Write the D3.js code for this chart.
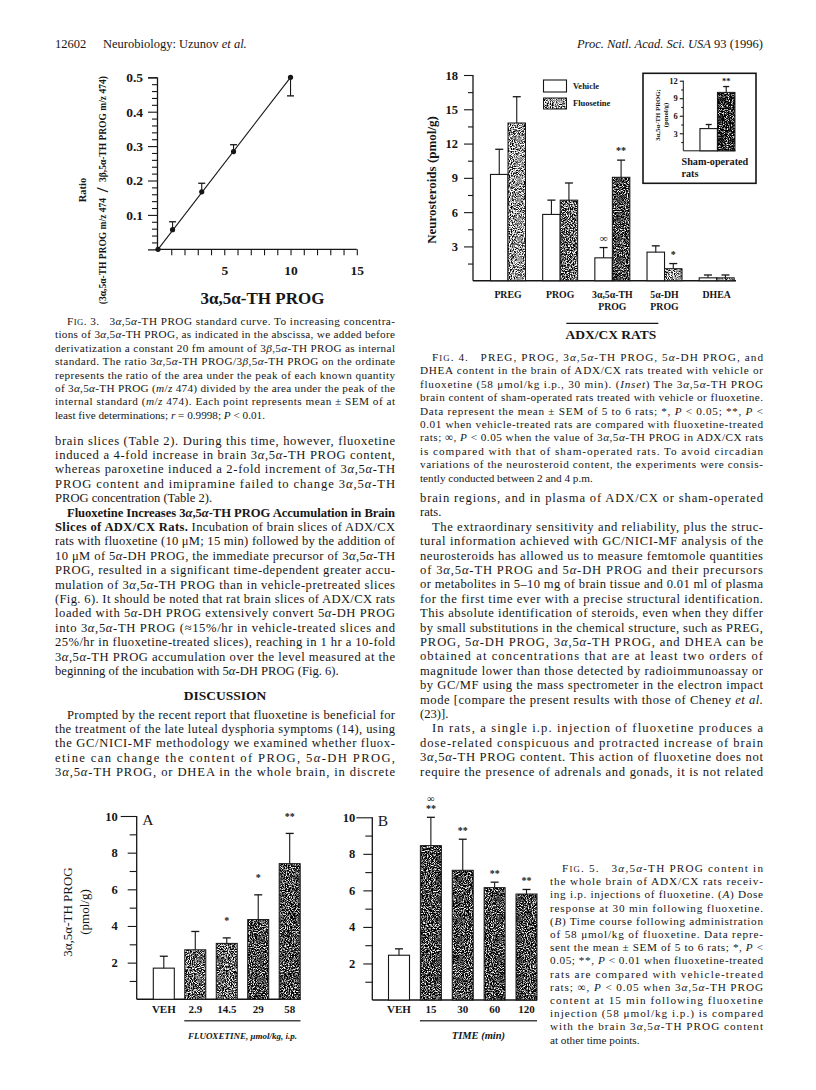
<!DOCTYPE html>
<html><head><meta charset="utf-8">
<script src="https://cdn.jsdelivr.net/npm/d3@7"></script>
<style>
body{margin:0;background:#fff}
svg{display:block}
text{font-family:"Liberation Serif","Times New Roman",serif;fill:#161616;white-space:pre}
</style>
</head><body>
<script>
// ---------------- DATA ----------------
// Fig. 3 standard curve
const fig3Conc = [0, 1.1, 3.3, 5.7, 10];
const fig3Ratio = [0, 0.057, 0.167, 0.284, 0.5];
const fig3ErrEnd = [null, 0.080, 0.192, 0.304, 0.446];
const fig3XTickLabels = [5, 10, 15];
const fig3YTickLabels = [0.1, 0.2, 0.3, 0.4, 0.5];

// Fig. 4 ADX/CX rats
const fig4Categories = [["PREG"], ["PROG"], ["3α,5α-TH", "PROG"], ["5α-DH", "PROG"], ["DHEA"]];
const fig4Vehicle = [9.3, 5.8, 2.0, 2.5, 0.25];
const fig4VehicleErr = [11.5, 7.05, 2.9, 3.05, 0.5];
const fig4Fluox = [13.8, 7.05, 9.05, 1.05, 0.25];
const fig4FluoxErr = [16.1, 8.55, 10.55, 1.5, 0.5];
const fig4VehicleMarks = ["", "", "∞", "", ""];
const fig4FluoxMarks = ["", "", "**", "*", ""];
const fig4FluoxShade = ["light", "medium", "dark", "light", "light"];
const fig4YTickLabels = [3, 6, 9, 12, 15, 18];
const fig4Legend = ["Vehicle", "Fluosetine"];

// Fig. 4 inset, sham-operated rats
const insetValues = [3.8, 10.0];
const insetErr = [4.5, 11.0];
const insetMarks = ["", "**"];
const insetYTickLabels = [3, 6, 9, 12];

// Fig. 5A dose response
const fig5ACategories = ["VEH", "2.9", "14.5", "29", "58"];
const fig5AValues = [1.7, 2.7, 3.05, 4.35, 7.4];
const fig5AErr = [2.35, 3.7, 3.35, 5.7, 9.05];
const fig5AMarks = ["", "", "*", "*", "**"];
const fig5AShade = ["white", "medium", "medium", "dark", "dark"];

// Fig. 5B time course
const fig5BCategories = ["VEH", "15", "30", "60", "120"];
const fig5BValues = [2.45, 8.45, 7.1, 6.15, 5.8];
const fig5BErr = [2.8, 10.0, 8.8, 6.45, 6.05];
const fig5BMarks = ["", "**", "**", "**", "**"];
const fig5BExtraMarks = ["", "∞", "", "", ""];
const fig5BShade = ["white", "dark", "dark", "dark", "dark"];
const fig5YTickLabels = [2, 4, 6, 8, 10];

// ---------------- TEXT ----------------
const fig3Caption = [
  ">F{IG}. 3.   3α,5α-TH PROG standard curve. To increasing concentra-",
  "tions of 3α,5α-TH PROG, as indicated in the abscissa, we added before",
  "derivatization a constant 20 fm amount of 3β,5α-TH PROG as internal",
  "standard. The ratio 3α,5α-TH PROG/3β,5α-TH PROG on the ordinate",
  "represents the ratio of the area under the peak of each known quantity",
  "of 3α,5α-TH PROG (_m_/_z_ 474) divided by the area under the peak of the",
  "internal standard (_m_/_z_ 474). Each point represents mean ± SEM of at",
  "least five determinations; _r_ = 0.9998; _P_ < 0.01.|"
];
const leftText1 = [
  "brain slices (Table 2). During this time, however, fluoxetine",
  "induced a 4-fold increase in brain 3α,5α-TH PROG content,",
  "whereas paroxetine induced a 2-fold increment of 3α,5α-TH",
  "PROG content and imipramine failed to change 3α,5α-TH",
  "PROG concentration (Table 2).|",
  ">^Fluoxetine Increases 3α,5α-TH PROG Accumulation in Brain^",
  "^Slices of ADX/CX Rats.^ Incubation of brain slices of ADX/CX",
  "rats with fluoxetine (10 μM; 15 min) followed by the addition of",
  "10 μM of 5α-DH PROG, the immediate precursor of 3α,5α-TH",
  "PROG, resulted in a significant time-dependent greater accu-",
  "mulation of 3α,5α-TH PROG than in vehicle-pretreated slices",
  "(Fig. 6). It should be noted that rat brain slices of ADX/CX rats",
  "loaded with 5α-DH PROG extensively convert 5α-DH PROG",
  "into 3α,5α-TH PROG (≈15%/hr in vehicle-treated slices and",
  "25%/hr in fluoxetine-treated slices), reaching in 1 hr a 10-fold",
  "3α,5α-TH PROG accumulation over the level measured at the",
  "beginning of the incubation with 5α-DH PROG (Fig. 6).|"
];
const leftText2 = [
  ">Prompted by the recent report that fluoxetine is beneficial for",
  "the treatment of the late luteal dysphoria symptoms (14), using",
  "the GC/NICI-MF methodology we examined whether fluox-",
  "etine can change the content of PROG, 5α-DH PROG,",
  "3α,5α-TH PROG, or DHEA in the whole brain, in discrete"
];
const fig4Caption = [
  ">F{IG}. 4.   PREG, PROG, 3α,5α-TH PROG, 5α-DH PROG, and",
  "DHEA content in the brain of ADX/CX rats treated with vehicle or",
  "fluoxetine (58 μmol/kg i.p., 30 min). (_Inset_) The 3α,5α-TH PROG",
  "brain content of sham-operated rats treated with vehicle or fluoxetine.",
  "Data represent the mean ± SEM of 5 to 6 rats; *, _P_ < 0.05; **, _P_ <",
  "0.01 when vehicle-treated rats are compared with fluoxetine-treated",
  "rats; ∞, _P_ < 0.05 when the value of 3α,5α-TH PROG in ADX/CX rats",
  "is compared with that of sham-operated rats. To avoid circadian",
  "variations of the neurosteroid content, the experiments were consis-",
  "tently conducted between 2 and 4 p.m.|"
];
const rightText = [
  "brain regions, and in plasma of ADX/CX or sham-operated",
  "rats.|",
  ">The extraordinary sensitivity and reliability, plus the struc-",
  "tural information achieved with GC/NICI-MF analysis of the",
  "neurosteroids has allowed us to measure femtomole quantities",
  "of 3α,5α-TH PROG and 5α-DH PROG and their precursors",
  "or metabolites in 5–10 mg of brain tissue and 0.01 ml of plasma",
  "for the first time ever with a precise structural identification.",
  "This absolute identification of steroids, even when they differ",
  "by small substitutions in the chemical structure, such as PREG,",
  "PROG, 5α-DH PROG, 3α,5α-TH PROG, and DHEA can be",
  "obtained at concentrations that are at least two orders of",
  "magnitude lower than those detected by radioimmunoassay or",
  "by GC/MF using the mass spectrometer in the electron impact",
  "mode [compare the present results with those of Cheney _et al._",
  "(23)].|",
  ">In rats, a single i.p. injection of fluoxetine produces a",
  "dose-related conspicuous and protracted increase of brain",
  "3α,5α-TH PROG content. This action of fluoxetine does not",
  "require the presence of adrenals and gonads, it is not related"
];
const fig5Caption = [
  ">F{IG}. 5.   3α,5α-TH PROG content in",
  "the whole brain of ADX/CX rats receiv-",
  "ing i.p. injections of fluoxetine. (_A_) Dose",
  "response at 30 min following fluoxetine.",
  "(_B_) Time course following administration",
  "of 58 μmol/kg of fluoxetine. Data repre-",
  "sent the mean ± SEM of 5 to 6 rats; *, _P_ <",
  "0.05; **, _P_ < 0.01 when fluoxetine-treated",
  "rats are compared with vehicle-treated",
  "rats; ∞, _P_ < 0.05 when 3α,5α-TH PROG",
  "content at 15 min following fluoxetine",
  "injection (58 μmol/kg i.p.) is compared",
  "with the brain 3α,5α-TH PROG content",
  "at other time points.|"
];

// ---------------- DRAWING ----------------
const W = 816, H = 1090;
const svg = d3.select("body").append("svg").attr("width", W).attr("height", H);
svg.append("rect").attr("width", W).attr("height", H).attr("fill", "#fff");
const defs = svg.append("defs");
const INK = "#161616";

function stipple(id, mean, seed) {
  const f = defs.append("filter").attr("id", id)
    .attr("x", 0).attr("y", 0).attr("width", 1).attr("height", 1)
    .attr("color-interpolation-filters", "sRGB");
  f.append("feTurbulence").attr("type", "fractalNoise").attr("baseFrequency", 0.95)
    .attr("numOctaves", 2).attr("seed", seed).attr("result", "n");
  const k = 3.4, b = mean - k * 0.5;
  f.append("feColorMatrix").attr("in", "n").attr("type", "matrix")
    .attr("values", `${k} 0 0 0 ${b}  ${k} 0 0 0 ${b}  ${k} 0 0 0 ${b}  0 0 0 0 1`).attr("result", "g");
  f.append("feComposite").attr("in", "g").attr("in2", "SourceAlpha").attr("operator", "in");
}
stipple("stLight", 0.60, 3);
stipple("stMedium", 0.40, 5);
stipple("stDark", 0.26, 8);
stipple("stBlack", 0.13, 11);
const shadeId = {light: "stLight", medium: "stMedium", dark: "stDark", black: "stBlack"};

function richLine(parent, x, y, str, size, opts = {}) {
  const t = parent.append("text").attr("x", x).attr("y", y).attr("font-size", size);
  if (opts.width) t.attr("textLength", opts.width).attr("lengthAdjust", "spacing");
  if (opts.anchor) t.attr("text-anchor", opts.anchor);
  let italic = false, bold = false, small = false, cur = null;
  const segs = [];
  for (const ch of str) {
    if (ch === "_") { italic = !italic; continue; }
    if (ch === "^") { bold = !bold; continue; }
    if (ch === "{" || ch === "}") { small = ch === "{"; continue; }
    const it = (opts.greek && "αβ".includes(ch)) ? !italic : italic;
    const key = [it, bold, small].join();
    if (cur && cur.key === key) cur.text += ch;
    else { cur = {key, text: ch, it, bold, small}; segs.push(cur); }
  }
  segs.forEach(s => {
    const ts = t.append("tspan").text(s.text);
    if (s.it) ts.attr("font-style", "italic");
    if (s.bold) ts.attr("font-weight", "bold");
    if (s.small) ts.attr("font-size", size * 0.78);
  });
  return t;
}
function block(lines, o) {
  lines.forEach((ln, i) => {
    let s = ln, just = true, ind = 0;
    if (s.startsWith(">")) { ind = o.indent; s = s.slice(1); }
    if (s.endsWith("|")) { just = false; s = s.slice(0, -1); }
    richLine(svg, o.x + ind, o.y + i * o.lh, s, o.size, {width: just ? o.width - ind : null, greek: true});
  });
}

// header
richLine(svg, 55, 48, "12602", 12.5);
richLine(svg, 103, 48, "Neurobiology: Uzunov _et al._", 12.5);
richLine(svg, 763, 48, "_Proc. Natl. Acad. Sci. USA_ 93 (1996)", 12.5, {anchor: "end"});

// body text
const CAP = 11.2, BODY = 12.6;
block(fig3Caption, {x: 55, y: 325, lh: 13.4, size: CAP, width: 340, indent: 12});
block(leftText1, {x: 55, y: 444.5, lh: 14.4, size: BODY, width: 340, indent: 12});
richLine(svg, 225, 700, "^DISCUSSION^", 13.5, {anchor: "middle"});
block(leftText2, {x: 55, y: 718.5, lh: 14.4, size: BODY, width: 340, indent: 12});
block(fig4Caption, {x: 420, y: 361, lh: 13.4, size: CAP, width: 343, indent: 12});
block(rightText, {x: 420, y: 502, lh: 14.4, size: BODY, width: 343, indent: 12});
block(fig5Caption, {x: 550, y: 872, lh: 13.2, size: CAP, width: 213, indent: 12});

// helpers for charts
function styleAxis(g, fs, bold = true) {
  g.selectAll("path.domain").attr("stroke", INK).attr("stroke-width", 1.3);
  g.selectAll(".tick line").attr("stroke", INK).attr("stroke-width", 1.1);
  g.selectAll(".tick text").attr("font-size", fs).attr("font-weight", bold ? "bold" : null)
    .attr("font-family", "'Liberation Serif','Times New Roman',serif").attr("fill", INK);
}
function bar(g, x0, w, yTop, yBase, shade) {
  if (shade === "white") {
    g.append("rect").attr("x", x0).attr("y", yTop).attr("width", w).attr("height", yBase - yTop)
      .attr("fill", "#fff").attr("stroke", INK).attr("stroke-width", 1.1);
  } else {
    g.append("rect").attr("x", x0).attr("y", yTop).attr("width", w).attr("height", yBase - yTop)
      .attr("fill", "#000").attr("filter", `url(#${shadeId[shade]})`);
    g.append("rect").attr("x", x0).attr("y", yTop).attr("width", w).attr("height", yBase - yTop)
      .attr("fill", "none").attr("stroke", INK).attr("stroke-width", 1);
  }
}
function errBar(g, cx, y0, y1, cap) {
  g.append("line").attr("x1", cx).attr("x2", cx).attr("y1", y0).attr("y2", y1).attr("stroke", INK).attr("stroke-width", 1.1);
  g.append("line").attr("x1", cx - cap / 2).attr("x2", cx + cap / 2).attr("y1", y1).attr("y2", y1).attr("stroke", INK).attr("stroke-width", 1.3);
}
function mark(g, cx, y, txt, fs) {
  if (!txt) return;
  g.append("text").attr("x", cx).attr("y", y).attr("text-anchor", "middle").attr("font-size", fs)
    .attr("font-weight", "bold").text(txt);
}
const halfSteps = (max, step) => d3.range(step / 2, max + 0.001, step);

// ---------- Fig. 3 ----------
{
  const g = svg.append("g");
  const x = d3.scaleLinear().domain([0, 15]).range([158, 356.8]);
  const y = d3.scaleLinear().domain([0, 0.5]).range([249.3, 77.3]);
  const minorY = d3.range(0.02, 0.5, 0.02).filter(v => Math.abs(v * 10 - Math.round(v * 10)) > 0.01);
  const gy = g.append("g").attr("transform", "translate(157,0)");
  gy.call(d3.axisLeft(y).tickValues(fig3YTickLabels).tickSize(9).tickPadding(5).tickFormat(d3.format(".1f")));
  gy.append("g").call(d3.axisLeft(y).tickValues(minorY).tickSize(5).tickFormat("")).select(".domain").remove();
  styleAxis(gy, 13.5);
  const gx = g.append("g").attr("transform", "translate(0,249.3)");
  gx.call(d3.axisBottom(x).tickValues(d3.range(1, 16)).tickSize(6).tickPadding(10)
    .tickFormat(d => fig3XTickLabels.includes(d) ? d : ""));
  gx.select(".domain").attr("d", `M157,0H${x(15)}`);
  styleAxis(gx, 13.5);
  // fitted line
  const line = d3.line().x(d => x(d[0])).y(d => y(d[1]));
  g.append("path").datum([[fig3Conc[0], fig3Ratio[0]], [fig3Conc[4], fig3Ratio[4]]])
    .attr("d", line).attr("stroke", INK).attr("stroke-width", 1.1).attr("fill", "none");
  fig3Conc.forEach((c, i) => {
    if (fig3ErrEnd[i] !== null) errBar(g, x(c), y(fig3Ratio[i]), y(fig3ErrEnd[i]), 7);
    g.append("circle").attr("cx", x(c)).attr("cy", y(fig3Ratio[i])).attr("r", 2.6).attr("fill", INK);
  });
  richLine(g, 262.5, 304, "^3α,5α-TH PROG^", 17, {anchor: "middle"});
  g.append("text").attr("transform", "translate(86,190) rotate(-90)").attr("text-anchor", "middle")
    .attr("font-size", 10.5).attr("font-weight", "bold").text("Ratio");
  const yl = g.append("g").attr("transform", "translate(106,190) rotate(-90)").attr("font-weight", "bold");
  yl.append("text").attr("x", -8).attr("text-anchor", "end").attr("font-size", 9.5).attr("font-weight", "bold")
    .text("(3α,5α-TH PROG m/z 474");
  yl.append("text").attr("x", 0).attr("y", 2).attr("text-anchor", "middle").attr("font-size", 17)
    .attr("font-weight", "bold").text("/");
  yl.append("text").attr("x", 8).attr("font-size", 9.5).attr("font-weight", "bold")
    .text("3β,5α-TH PROG m/z 474)");
}

// ---------- Fig. 4 ----------
{
  const g = svg.append("g");
  const y = d3.scaleLinear().domain([0, 18]).range([280.7, 75]);
  const x = d3.scalePoint().domain(d3.range(fig4Categories.length)).range([508, 716.7]);
  const gy = g.append("g").attr("transform", "translate(473,0)");
  gy.call(d3.axisLeft(y).tickValues(fig4YTickLabels).tickSize(9).tickPadding(6));
  gy.append("g").call(d3.axisLeft(y).tickValues(halfSteps(18, 3)).tickSize(5).tickFormat("")).select(".domain").remove();
  gy.select(".domain").attr("d", `M0,${y(0)}V${y(18)}`);
  styleAxis(gy, 12.5);
  g.append("line").attr("x1", 473).attr("x2", 736).attr("y1", y(0)).attr("y2", y(0)).attr("stroke", INK).attr("stroke-width", 1.4);
  const bw = 17.5;
  fig4Categories.forEach((c, i) => {
    const cx = x(i);
    bar(g, cx - bw, bw, y(fig4Vehicle[i]), y(0), "white");
    bar(g, cx, bw, y(fig4Fluox[i]), y(0), fig4FluoxShade[i]);
    errBar(g, cx - bw / 2, y(fig4Vehicle[i]), y(fig4VehicleErr[i]), 8);
    errBar(g, cx + bw / 2, y(fig4Fluox[i]), y(fig4FluoxErr[i]), 8);
    mark(g, cx - bw / 2, y(fig4VehicleErr[i]) - 6, fig4VehicleMarks[i], 11);
    mark(g, cx + bw / 2, y(fig4FluoxErr[i]) - 6, fig4FluoxMarks[i], 10);
    c.forEach((t, j) => richLine(g, cx, 297.5 + j * 12, "^" + t + "^", 9.8, {anchor: "middle"}));
  });
  g.append("text").attr("transform", "translate(436,180) rotate(-90)").attr("text-anchor", "middle")
    .attr("font-size", 13).attr("font-weight", "bold").text("Neurosteroids (pmol/g)");
  // legend
  bar(g, 543.5, 23, 80, 92, "white");
  bar(g, 543.5, 23, 98, 109, "light");
  g.append("text").attr("x", 573).attr("y", 89).attr("font-size", 8.5).attr("font-weight", "bold").text(fig4Legend[0]);
  g.append("text").attr("x", 573).attr("y", 106).attr("font-size", 8.5).attr("font-weight", "bold").text(fig4Legend[1]);
  // group line and label
  g.append("line").attr("x1", x(2) - 46).attr("x2", x(2) + 46).attr("y1", 323.3).attr("y2", 323.3).attr("stroke", INK).attr("stroke-width", 1.3);
  g.append("text").attr("x", x(2) - 1.5).attr("y", 338.5).attr("text-anchor", "middle").attr("font-size", 13.5)
    .attr("font-weight", "bold").text("ADX/CX RATS");

  // inset
  const ig = svg.append("g");
  ig.append("rect").attr("x", 643).attr("y", 73.3).attr("width", 113).attr("height", 110)
    .attr("fill", "#fff").attr("stroke", INK).attr("stroke-width", 1.6);
  const iy = d3.scaleLinear().domain([0, 12]).range([150.8, 80.7]);
  const ix = d3.scalePoint().domain([0, 1]).range([708.7, 726.2]);
  const giy = ig.append("g").attr("transform", "translate(683.3,0)");
  giy.call(d3.axisLeft(iy).tickValues(insetYTickLabels).tickSize(3.5).tickPadding(2));
  giy.append("g").call(d3.axisLeft(iy).tickValues(halfSteps(12, 3)).tickSize(2).tickFormat("")).select(".domain").remove();
  giy.select(".domain").attr("d", `M0,${iy(0)}V${iy(12)}`);
  styleAxis(giy, 8.5);
  giy.selectAll("path.domain").attr("stroke-width", 1);
  ig.append("line").attr("x1", 683.3).attr("x2", 735.5).attr("y1", iy(0)).attr("y2", iy(0)).attr("stroke", INK).attr("stroke-width", 1);
  const ibw = 17.5;
  insetValues.forEach((v, i) => {
    const cx = ix(i);
    bar(ig, cx - ibw / 2, ibw, iy(v), iy(0), i === 0 ? "white" : "black");
    errBar(ig, cx, iy(v), iy(insetErr[i]), 6);
    mark(ig, cx, iy(insetErr[i]) - 3, insetMarks[i], 8.5);
  });
  const it = ig.append("g").attr("transform", "translate(0,115)");
  it.append("text").attr("transform", "translate(659.5,0) rotate(-90)").attr("text-anchor", "middle")
    .attr("font-size", 6.8).attr("font-weight", "bold").text("3α,5α-TH PROG;");
  it.append("text").attr("transform", "translate(668,0) rotate(-90)").attr("text-anchor", "middle")
    .attr("font-size", 6.8).attr("font-weight", "bold").text("(pmol/g)");
  ig.append("text").attr("x", 681.5).attr("y", 165).attr("font-size", 10.2).attr("font-weight", "bold").text("Sham-operated");
  ig.append("text").attr("x", 681.5).attr("y", 177).attr("font-size", 10.2).attr("font-weight", "bold").text("rats");
}

// ---------- Fig. 5 ----------
function fig5(o) {
  const g = svg.append("g");
  const y = d3.scaleLinear().domain([0, 10]).range([o.y0, o.y10]);
  const x = d3.scalePoint().domain(o.cats).range(o.xr);
  const gy = g.append("g").attr("transform", `translate(${o.ax},0)`);
  gy.call(d3.axisLeft(y).tickValues(fig5YTickLabels).tickSize(9).tickPadding(o.pad));
  gy.append("g").call(d3.axisLeft(y).tickValues(d3.range(1, 10, 2)).tickSize(7).tickFormat("")).select(".domain").remove();
  gy.select(".domain").attr("d", `M0,${y(0)}V${y(10)}`);
  gy.selectAll(".tick").filter(d => d === 10).select("line").attr("x2", -16);
  styleAxis(gy, 12.5);
  g.append("line").attr("x1", o.ax).attr("x2", o.xEnd).attr("y1", y(0)).attr("y2", y(0)).attr("stroke", INK).attr("stroke-width", 1.4);
  const bw = 21;
  o.cats.forEach((c, i) => {
    const cx = x(c);
    bar(g, cx - bw / 2, bw, y(o.vals[i]), y(0), o.shade[i]);
    errBar(g, cx, y(o.vals[i]), y(o.err[i]), 8);
    mark(g, cx, y(o.err[i]) - o.markGap, o.marks[i], 10);
    if (o.extra && o.extra[i]) mark(g, cx, y(o.err[i]) - o.markGap - 10, o.extra[i], 10);
    g.append("text").attr("x", cx).attr("y", 1012.5).attr("text-anchor", "middle").attr("font-size", 11)
      .attr("font-weight", "bold").text(c);
  });
  g.append("text").attr("x", o.ax + 5.5).attr("y", o.y10 + 8.5).attr("font-size", 15.5).text(o.letter);
  g.append("line").attr("x1", x(o.cats[1]) - 11).attr("x2", o.xEnd).attr("y1", 1020.8).attr("y2", 1020.8)
    .attr("stroke", "#444").attr("stroke-width", 1.4);
  g.append("text").attr("x", (x(o.cats[1]) - 11 + o.xEnd) / 2).attr("y", 1039).attr("text-anchor", "middle")
    .attr("font-size", o.tfs).attr("font-style", "italic").attr("font-weight", "bold").text(o.title);
}
fig5({cats: fig5ACategories, vals: fig5AValues, err: fig5AErr, marks: fig5AMarks, shade: fig5AShade,
  y0: 999.3, y10: 816, ax: 136.7, xr: [163.8, 289.7], xEnd: 300.5, pad: 10, markGap: 13.5,
  letter: "A", title: "FLUOXETINE, μmol/kg, i.p.", tfs: 9});
fig5({cats: fig5BCategories, vals: fig5BValues, err: fig5BErr, marks: fig5BMarks, extra: fig5BExtraMarks, shade: fig5BShade,
  y0: 1000, y10: 817.3, ax: 372.3, xr: [399, 526.5], xEnd: 537, pad: 8, markGap: 5.5,
  letter: "B", title: "TIME (min)", tfs: 10.5});
// Fig. 5 shared y title
const yt = svg.append("g").attr("transform", "translate(0,912)");
richLine(yt, 0, 0, "3α,5α-TH PROG", 13, {anchor: "middle"}).attr("transform", "translate(72,0) rotate(-90)").attr("x", 0);
richLine(yt, 0, 0, "(pmol/g)", 13, {anchor: "middle"}).attr("transform", "translate(89,0) rotate(-90)").attr("x", 0);
</script>
</body></html>
